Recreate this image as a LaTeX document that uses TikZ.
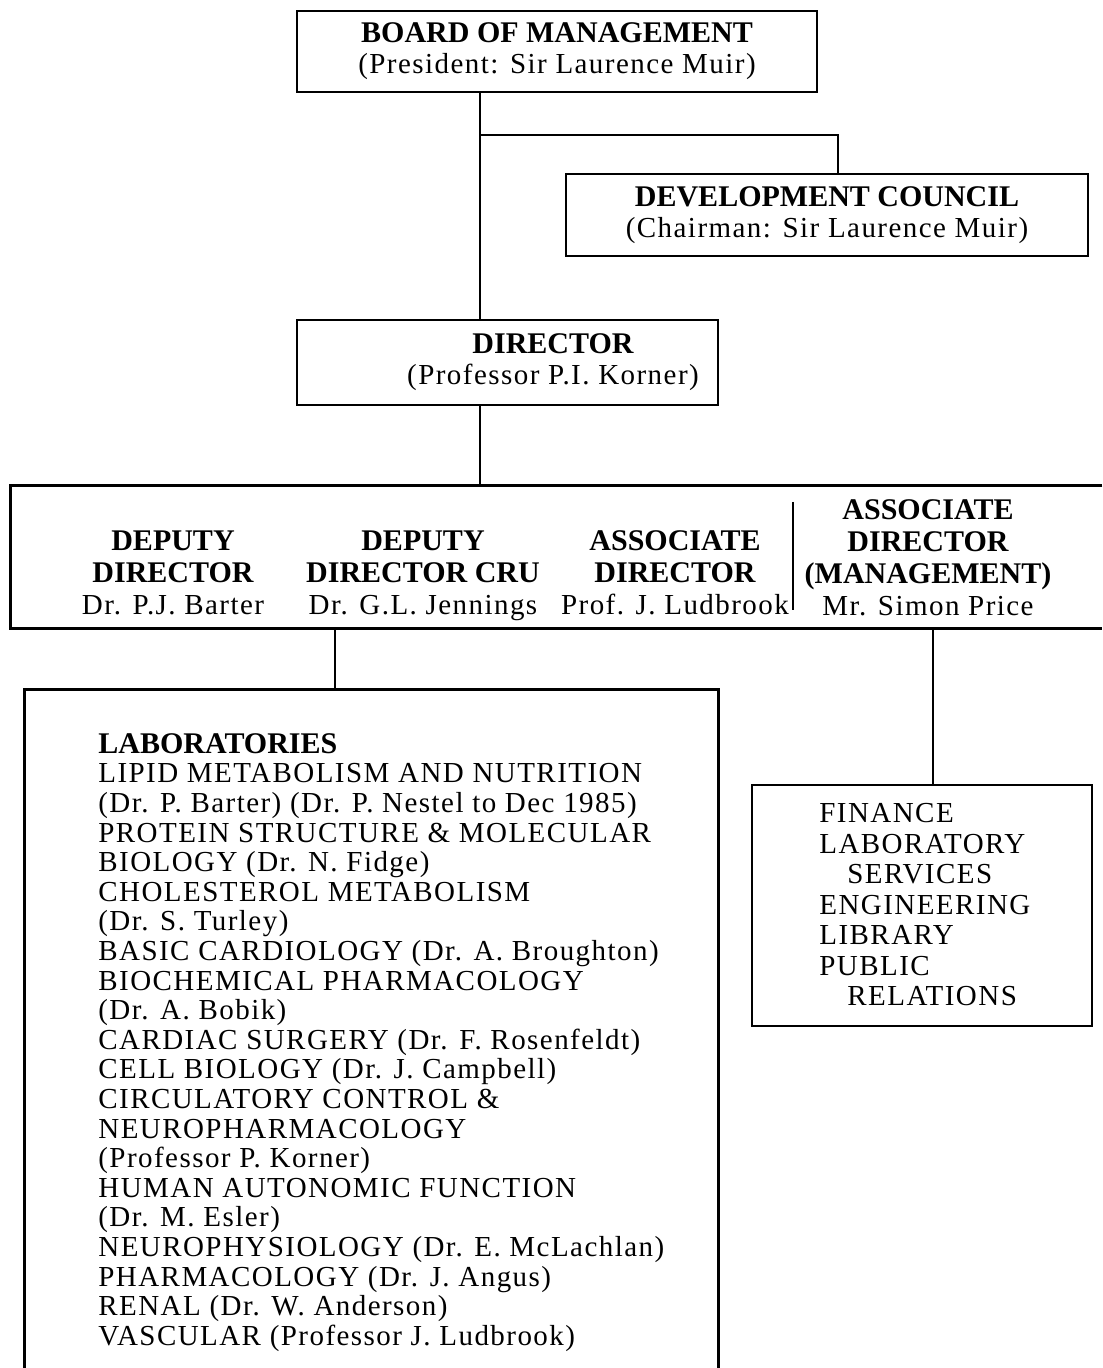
\documentclass[tikz,border=0pt]{standalone}
\usepackage{fontspec}
\setmainfont{Liberation Serif}
\newfontfamily\rmsp[LetterSpace=5]{Liberation Serif}
\newcommand{\hdr}[1]{{\normalfont\bfseries\fontsize{15}{16}\selectfont #1}}
\tikzset{
  box/.style={draw, line width=1.4pt, inner sep=0pt},
  ghost/.style={inner sep=0pt},
  txt/.style={align=center, inner sep=0pt, font=\rmsp\fontsize{14.5}{15.5}\selectfont},
  coltxt/.style={align=center, inner sep=0pt, font=\rmsp\fontsize{14.5}{16}\selectfont},
  listtxt/.style={align=left, inner sep=0pt, anchor=north west},
  ln/.style={line width=1.4pt},
}
\begin{document}
\begin{tikzpicture}[x=0.5pt, y=-0.5pt]
\useasboundingbox (0,0) rectangle (1102,1368);

% boxes
\node[box, txt, minimum width=260pt, minimum height=40.5pt] (board) at (557,51.5)
  {\hdr{BOARD OF MANAGEMENT}\\(President: Sir Laurence Muir)};
\node[box, txt, minimum width=261pt, minimum height=41pt] (dev) at (827,215)
  {\hdr{DEVELOPMENT COUNCIL}\\(Chairman: Sir Laurence Muir)};
\node[box, minimum width=210.5pt, minimum height=42.5pt] (director) at (507.5,362.5) {};
\node[txt] (dirtext) at (553,362) {\hdr{DIRECTOR}\\(Professor P.I. Korner)};

% wide open box
\node[ghost, minimum width=545.5pt, minimum height=71pt] (mid) at (556.5,557) {};
\draw[ln] (mid.north east) -- (mid.north west) -- (mid.south west) -- (mid.south east);
\node[coltxt] (c1) at (173,573) {\hdr{DEPUTY}\\\hdr{DIRECTOR}\\Dr. P.J. Barter};
\node[coltxt] (c2) at (423,576) {\hdr{DEPUTY}\\\hdr{DIRECTOR CRU}\\Dr. G.L. Jennings};
\node[coltxt] (c3) at (675,573) {\hdr{ASSOCIATE}\\\hdr{DIRECTOR}\\Prof. J. Ludbrook};
\node[coltxt] (c4) at (928,558) {\hdr{ASSOCIATE}\\\hdr{DIRECTOR}\\\hdr{(MANAGEMENT)}\\Mr. Simon Price};
\coordinate (dtop) at (793,502);
\coordinate (dbot) at (793,610);
\draw[ln] (dtop) -- (dbot);

% laboratories box (open at bottom)
\node[ghost, minimum width=346.5pt, minimum height=339pt] (lab) at (371.5,1029) {};
\draw[ln] (lab.south west) -- (lab.north west) -- (lab.north east) -- (lab.south east);
\node[listtxt, font=\rmsp\fontsize{14.5}{14.8}\selectfont] (labtext) at (98,733)
  {\hdr{LABORATORIES}\\
   LIPID METABOLISM AND NUTRITION\\
   (Dr. P. Barter) (Dr. P. Nestel to Dec 1985)\\
   PROTEIN STRUCTURE \& MOLECULAR\\
   BIOLOGY (Dr. N. Fidge)\\
   CHOLESTEROL METABOLISM\\
   (Dr. S. Turley)\\
   BASIC CARDIOLOGY (Dr. A. Broughton)\\
   BIOCHEMICAL PHARMACOLOGY\\
   (Dr. A. Bobik)\\
   CARDIAC SURGERY (Dr. F. Rosenfeldt)\\
   CELL BIOLOGY (Dr. J. Campbell)\\
   CIRCULATORY CONTROL \&\\
   NEUROPHARMACOLOGY\\
   (Professor P. Korner)\\
   HUMAN AUTONOMIC FUNCTION\\
   (Dr. M. Esler)\\
   NEUROPHYSIOLOGY (Dr. E. McLachlan)\\
   PHARMACOLOGY (Dr. J. Angus)\\
   RENAL (Dr. W. Anderson)\\
   VASCULAR (Professor J. Ludbrook)};

% services box
\node[box, minimum width=170pt, minimum height=120.5pt] (serv) at (922,905.5) {};
\node[listtxt, font=\rmsp\fontsize{14.5}{15.25}\selectfont] (servtext) at (819,803)
  {FINANCE\\
   LABORATORY\\
   \hspace*{14pt}SERVICES\\
   ENGINEERING\\
   LIBRARY\\
   PUBLIC\\
   \hspace*{14pt}RELATIONS};

% connectors
\coordinate (j1) at (480,135);
\coordinate (j2) at (838,135);
\coordinate (j3) at (335,660);
\coordinate (j4) at (933,700);
\draw[ln] (board.south -| j1) -- (director.north -| j1);
\draw[ln] (j1) -- (j2) -- (dev.north -| j2);
\draw[ln] (director.south -| j1) -- (mid.north -| j1);
\draw[ln] (mid.south -| j3) -- (lab.north -| j3);
\draw[ln] (mid.south -| j4) -- (serv.north -| j4);
\end{tikzpicture}
\end{document}
